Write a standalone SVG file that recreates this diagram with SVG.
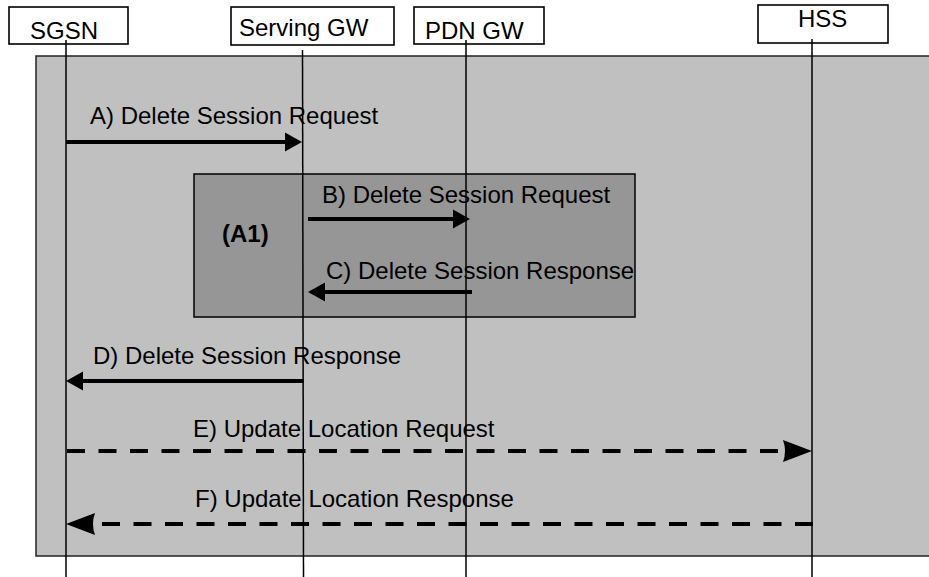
<svg xmlns="http://www.w3.org/2000/svg" width="929" height="577" viewBox="0 0 929 577">
<style>
text{font-family:"Liberation Sans",Arial,sans-serif;font-size:24px;fill:#000}
.hdr{fill:#fff;stroke:#000;stroke-width:1.6}
.life{stroke:#000;stroke-width:1.5}
.msg{stroke:#000;stroke-width:4;fill:none}
.dash{stroke-dasharray:18 13.5}
</style>
<defs>
<marker id="ah" markerUnits="userSpaceOnUse" markerWidth="20" markerHeight="22" refX="9" refY="9.5" orient="auto" overflow="visible">
<path d="M0,0 L17,9.5 L0,19 Z" fill="#000"/>
</marker>
<marker id="ahd" markerUnits="userSpaceOnUse" markerWidth="30" markerHeight="24" refX="16" refY="11" orient="auto" overflow="visible">
<path d="M0,0 L29,11 L0,22 Q4,11 0,0 Z" fill="#000"/>
</marker>
</defs>
<rect id="frame" x="36" y="56" width="900" height="500" fill="#c0c0c0" stroke="#222" stroke-width="1.5"/>
<g id="A1">
<rect x="194" y="174" width="441" height="143" fill="#969696" stroke="#000" stroke-width="1.5"/>
<text x="222" y="242" font-weight="bold">(A1)</text>
</g>
<g id="SGSN">
<rect class="hdr" x="9" y="7" width="119" height="37"/>
<text x="30" y="39">SGSN</text>
<line class="life" x1="66" y1="40" x2="66" y2="577"/>
</g>
<g id="ServingGW">
<rect class="hdr" x="231" y="7" width="163" height="38"/>
<text x="239" y="36">Serving GW</text>
<line class="life" x1="302.5" y1="50" x2="303.5" y2="577"/>
</g>
<g id="PDNGW">
<rect class="hdr" x="414" y="7" width="130" height="37"/>
<text x="425" y="39">PDN GW</text>
<line class="life" x1="466" y1="40" x2="466" y2="577"/>
</g>
<g id="HSS">
<rect class="hdr" x="758" y="5" width="130" height="38"/>
<text x="798" y="27">HSS</text>
<line class="life" x1="812" y1="39" x2="812" y2="577"/>
</g>
<g id="connectors">
<line class="msg" x1="66" y1="142" x2="294" y2="142" marker-end="url(#ah)"/>
<text x="90" y="124">A) Delete Session Request</text>
<line class="msg" x1="308" y1="219" x2="462" y2="219" marker-end="url(#ah)"/>
<text x="322" y="203">B) Delete Session Request</text>
<line class="msg" x1="472" y1="292" x2="316" y2="292" marker-end="url(#ah)"/>
<text x="326" y="279">C) Delete Session Response</text>
<line class="msg" x1="304" y1="381" x2="74" y2="381" marker-end="url(#ah)"/>
<text x="93" y="364">D) Delete Session Response</text>
<line class="msg dash" x1="67" y1="451" x2="799" y2="451" marker-end="url(#ahd)"/>
<text x="193" y="437">E) Update Location Request</text>
<line class="msg dash" x1="813" y1="524" x2="79" y2="524" marker-end="url(#ahd)"/>
<text x="195" y="507">F) Update Location Response</text>
</g>
</svg>
